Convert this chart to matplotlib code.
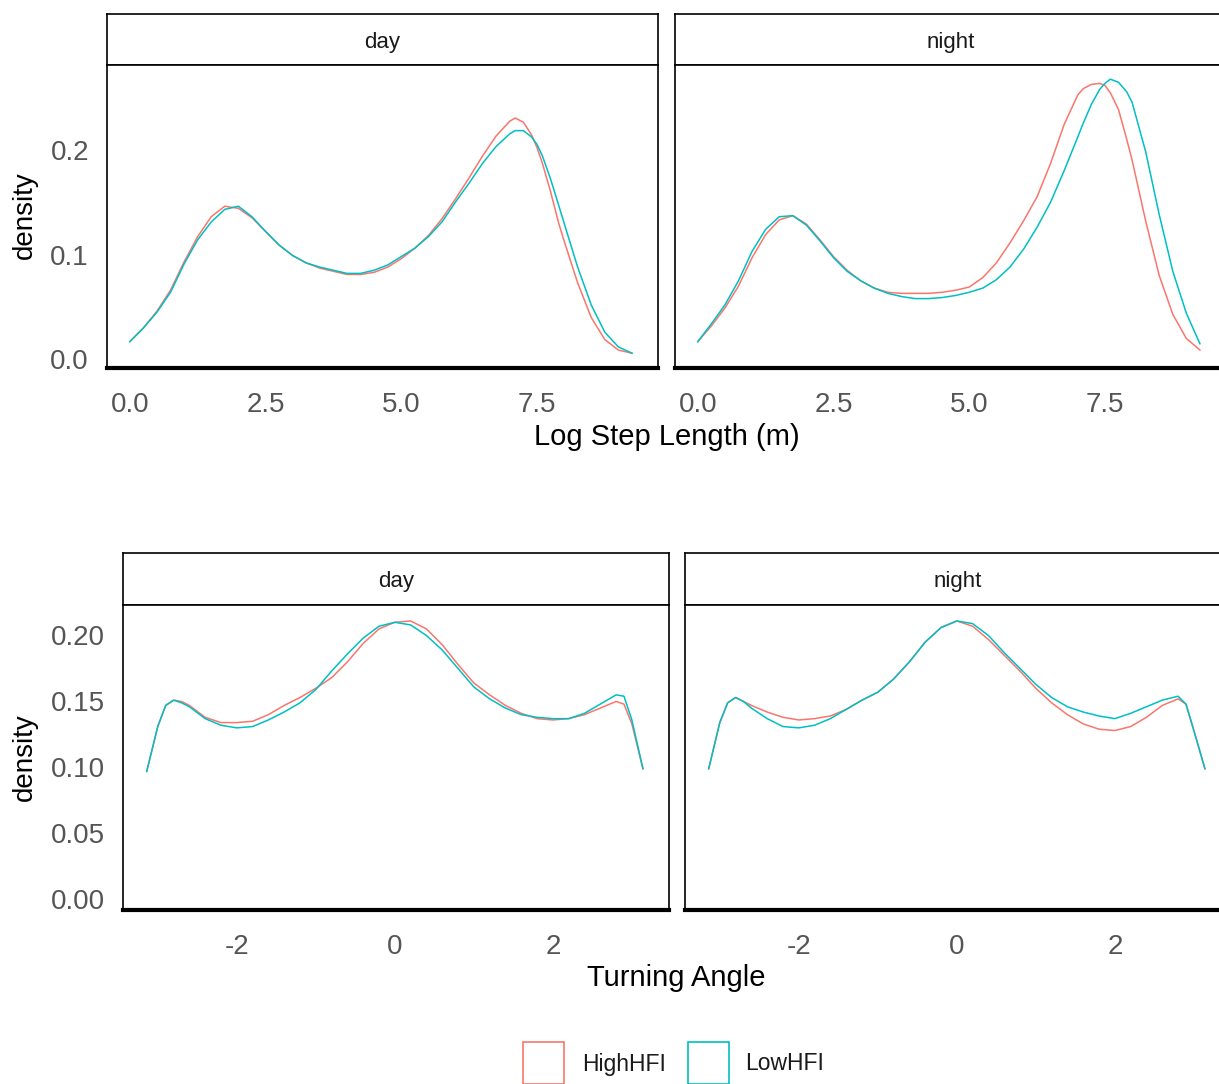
import matplotlib
matplotlib.use("Agg")
import matplotlib.pyplot as plt
from matplotlib.patches import Rectangle

plt.rcParams['font.family'] = ['Liberation Sans', 'DejaVu Sans']

# ---------------- data ----------------
groups = ["HighHFI", "LowHFI"]
colors = {"HighHFI": "#F8766D", "LowHFI": "#00BFC4"}
periods = ["day", "night"]

# Log step length densities
step_x = [0.0, 0.25, 0.5, 0.75, 1.0, 1.25, 1.5, 1.75, 2.0, 2.25, 2.5, 2.75, 3.0,
          3.25, 3.5, 3.75, 4.0, 4.25, 4.5, 4.75, 5.0, 5.25, 5.5, 5.75, 6.0, 6.25,
          6.5, 6.75, 7.0, 7.1, 7.25, 7.4, 7.5, 7.6, 7.75, 7.9, 8.0, 8.25, 8.5, 8.75,
          9.0, 9.25]

step_day_high = [0.017, 0.030, 0.046, 0.066, 0.093, 0.117, 0.136, 0.146, 0.144, 0.135,
                 0.122, 0.109, 0.099, 0.092, 0.087, 0.084, 0.081, 0.081, 0.083, 0.088,
                 0.096, 0.106, 0.118, 0.134, 0.153, 0.173, 0.194, 0.213, 0.227, 0.230,
                 0.226, 0.214, 0.202, 0.187, 0.160, 0.130, 0.113, 0.073, 0.040, 0.019,
                 0.009, 0.006]
step_day_low = [0.017, 0.030, 0.045, 0.064, 0.091, 0.114, 0.131, 0.143, 0.146, 0.136,
                0.122, 0.109, 0.099, 0.092, 0.088, 0.085, 0.082, 0.082, 0.085, 0.090,
                0.098, 0.106, 0.117, 0.131, 0.150, 0.168, 0.187, 0.203, 0.215, 0.218,
                0.218, 0.212, 0.205, 0.194, 0.172, 0.147, 0.130, 0.088, 0.052, 0.026,
                0.012, 0.006]
step_night_high = [0.017, 0.032, 0.049, 0.070, 0.097, 0.119, 0.133, 0.137, 0.129, 0.114,
                   0.098, 0.085, 0.075, 0.068, 0.064, 0.063, 0.063, 0.063, 0.064, 0.066,
                   0.069, 0.078, 0.092, 0.111, 0.132, 0.155, 0.187, 0.224, 0.252, 0.258,
                   0.262, 0.263, 0.261, 0.254, 0.238, 0.210, 0.190, 0.132, 0.080, 0.043,
                   0.020, 0.009]
step_night_low = [0.017, 0.034, 0.052, 0.075, 0.103, 0.124, 0.136, 0.137, 0.128, 0.113,
                  0.097, 0.084, 0.075, 0.068, 0.063, 0.060, 0.058, 0.058, 0.059, 0.061,
                  0.064, 0.068, 0.076, 0.088, 0.105, 0.126, 0.150, 0.180, 0.212, 0.225,
                  0.243, 0.257, 0.263, 0.267, 0.264, 0.255, 0.245, 0.198, 0.138, 0.084,
                  0.044, 0.015]

# Turning angle densities
turn_x = [-3.14, -3.0, -2.9, -2.8, -2.7, -2.6, -2.4, -2.2, -2.0, -1.8, -1.6, -1.4, -1.2,
          -1.0, -0.8, -0.6, -0.4, -0.2, 0.0, 0.2, 0.4, 0.6, 0.8, 1.0, 1.2, 1.4, 1.6,
          1.8, 2.0, 2.2, 2.4, 2.6, 2.8, 2.9, 3.0, 3.14]

turn_day_high = [0.097, 0.131, 0.147, 0.151, 0.150, 0.147, 0.138, 0.134, 0.134, 0.135,
                 0.140, 0.147, 0.153, 0.160, 0.168, 0.180, 0.194, 0.205, 0.210, 0.211,
                 0.205, 0.193, 0.178, 0.164, 0.155, 0.147, 0.141, 0.137, 0.136, 0.137,
                 0.140, 0.145, 0.150, 0.148, 0.133, 0.099]
turn_day_low = [0.097, 0.131, 0.147, 0.151, 0.149, 0.146, 0.137, 0.132, 0.130, 0.131,
                0.136, 0.142, 0.149, 0.159, 0.173, 0.186, 0.198, 0.207, 0.210, 0.208,
                0.200, 0.189, 0.175, 0.161, 0.152, 0.145, 0.140, 0.138, 0.137, 0.137,
                0.141, 0.148, 0.155, 0.154, 0.136, 0.099]
turn_night_high = [0.099, 0.134, 0.149, 0.153, 0.150, 0.147, 0.142, 0.138, 0.136, 0.137,
                   0.139, 0.144, 0.151, 0.157, 0.167, 0.180, 0.195, 0.206, 0.211, 0.207,
                   0.197, 0.185, 0.173, 0.160, 0.149, 0.140, 0.133, 0.129, 0.128, 0.131,
                   0.138, 0.147, 0.152, 0.148, 0.128, 0.099]
turn_night_low = [0.099, 0.134, 0.149, 0.153, 0.150, 0.145, 0.137, 0.131, 0.130, 0.132,
                  0.137, 0.144, 0.151, 0.157, 0.167, 0.180, 0.195, 0.206, 0.211, 0.209,
                  0.200, 0.187, 0.175, 0.163, 0.153, 0.146, 0.142, 0.139, 0.137, 0.141,
                  0.146, 0.151, 0.154, 0.148, 0.128, 0.099]

step_ticks = [0.0, 2.5, 5.0, 7.5]
step_ticklabels = ["0.0", "2.5", "5.0", "7.5"]
step_yticks = [0.0, 0.1, 0.2]
step_yticklabels = ["0.0", "0.1", "0.2"]
turn_ticks = [-2, 0, 2]
turn_ticklabels = ["-2", "0", "2"]
turn_yticks = [0.00, 0.05, 0.10, 0.15, 0.20]
turn_yticklabels = ["0.00", "0.05", "0.10", "0.15", "0.20"]

step_data = {"day": {"HighHFI": step_day_high, "LowHFI": step_day_low},
             "night": {"HighHFI": step_night_high, "LowHFI": step_night_low}}
turn_data = {"day": {"HighHFI": turn_day_high, "LowHFI": turn_day_low},
             "night": {"HighHFI": turn_night_high, "LowHFI": turn_night_low}}

# ---------------- layout ----------------
W, H = 1219, 1084
fig = plt.figure(figsize=(W / 100, H / 100), dpi=100)
fig.patch.set_facecolor("white")

TICK_COLOR = "#555555"


def px_axes(l, t, r, b):
    return fig.add_axes([l / W, 1 - b / H, (r - l) / W, (b - t) / H])


def strip(l, t, r, b, label):
    ax = px_axes(l, t, r, b)
    ax.set_xticks([])
    ax.set_yticks([])
    for s in ax.spines.values():
        s.set_linewidth(1.2)
        s.set_color("black")
    ax.text(0.5, 0.45, label, transform=ax.transAxes, ha="center", va="center",
            fontsize=16, color="#1A1A1A")
    return ax


def panel(l, t, r, b, x, series, xlim, ylim, xt, xtl, yt, ytl, show_y):
    ax = px_axes(l, t, r, b)
    for g in groups:
        ax.plot(x, series[g], color=colors[g], lw=1.1, zorder=3,
                solid_joinstyle="round")
    ax.set_xlim(*xlim)
    ax.set_ylim(*ylim)
    ax.set_xticks(xt)
    ax.set_xticklabels(xtl)
    ax.set_yticks(yt)
    if show_y:
        ax.set_yticklabels(ytl)
    else:
        ax.set_yticklabels([])
    ax.tick_params(axis="both", length=0, labelsize=20, labelcolor=TICK_COLOR)
    ax.tick_params(axis="x", pad=17)
    ax.tick_params(axis="y", pad=13)
    for name, s in ax.spines.items():
        s.set_color("black")
        s.set_linewidth(1.2)
    ax.spines["bottom"].set_linewidth(3.0)
    if not show_y:
        ax.tick_params(axis="y", labelleft=False)
    return ax


# top row: log step length
top_xlim = (-0.42, 9.73)
top_ylim = (-0.0081, 0.2805)
top_cols = [(107, 658), (675, 1226)]
for (l, r), p in zip(top_cols, periods):
    strip(l, 14, r, 65, p)
    panel(l, 65, r, 368, step_x, step_data[p], top_xlim, top_ylim,
          step_ticks, step_ticklabels, step_yticks, step_yticklabels, p == "day")

# bottom row: turning angle
bot_xlim = (-3.44, 3.47)
bot_ylim = (-0.008, 0.2231)
bot_cols = [(123, 669), (685, 1231)]
for (l, r), p in zip(bot_cols, periods):
    strip(l, 553, r, 605, p)
    panel(l, 605, r, 910, turn_x, turn_data[p], bot_xlim, bot_ylim,
          turn_ticks, turn_ticklabels, turn_yticks, turn_yticklabels, p == "day")

# axis titles
fig.text(25 / W, 1 - 215 / H, "density", rotation=90, ha="center", va="center",
         fontsize=20, color="black")
fig.text(25 / W, 1 - 757 / H, "density", rotation=90, ha="center", va="center",
         fontsize=20, color="black")
fig.text(667 / W, 1 - 437 / H, "Log Step Length (m)", ha="center", va="center",
         fontsize=21, color="black")
fig.text(676 / W, 1 - 978 / H, "Turning Angle", ha="center", va="center",
         fontsize=21, color="black")

# legend
legend_items = [(523, 582, "HighHFI"), (688, 745, "LowHFI")]
for (bx, tx, g) in legend_items:
    rect = Rectangle((bx / W, 1 - 1084 / H), 41 / W, 42 / H, transform=fig.transFigure,
                     facecolor="white", edgecolor=colors[g], lw=1.2)
    fig.add_artist(rect)
    fig.text(tx / W, 1 - 1064 / H, g, ha="left", va="center", fontsize=16.5,
             color="#1A1A1A")

fig.savefig("out.png", dpi=100, facecolor="white")
